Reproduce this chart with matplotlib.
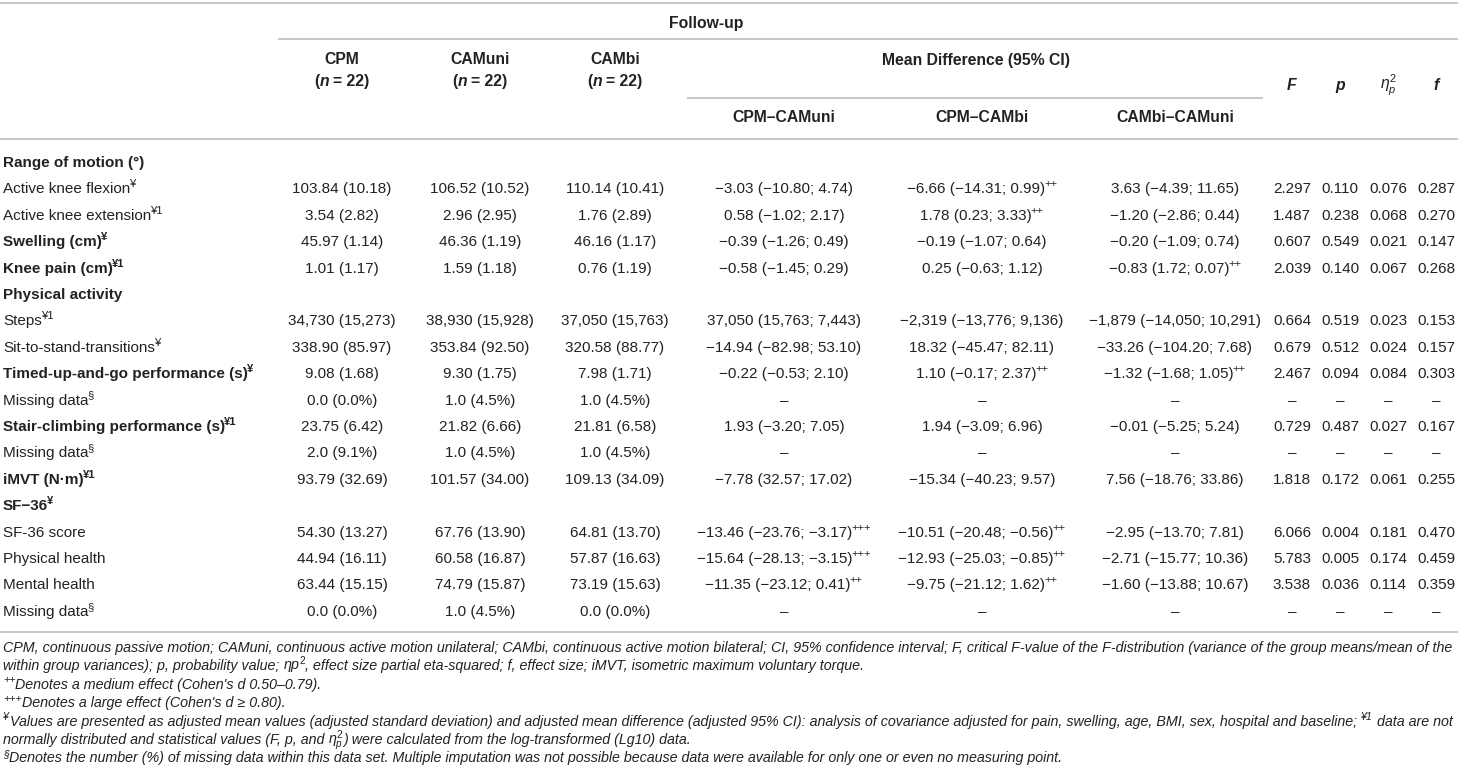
import matplotlib
matplotlib.use('Agg')
import matplotlib.pyplot as plt
from matplotlib import font_manager

# ---------------- fonts ----------------
names = {f.name for f in font_manager.fontManager.ttflist}
FONT = 'Liberation Sans' if 'Liberation Sans' in names else 'DejaVu Sans'
plt.rcParams['font.family'] = [FONT, 'DejaVu Sans']
plt.rcParams['mathtext.fontset'] = 'custom'
plt.rcParams['mathtext.rm'] = FONT
plt.rcParams['mathtext.it'] = FONT + ':italic'
plt.rcParams['mathtext.bf'] = FONT + ':bold'

# ---------------- data ----------------
row_labels = ['Range of motion (°)', 'Active knee flexion', 'Active knee extension',
              'Swelling (cm)', 'Knee pain (cm)', 'Physical activity', 'Steps',
              'Sit-to-stand-transitions', 'Timed-up-and-go performance (s)', 'Missing data',
              'Stair-climbing performance (s)', 'Missing data', 'iMVT (N·m)', 'SF−36',
              'SF-36 score', 'Physical health', 'Mental health', 'Missing data']
label_sup = ['', '¥', '¥1', '¥', '¥1', '', '¥1', '¥', '¥', '§', '¥1', '§', '¥1', '¥',
             '', '', '', '§']
bold_rows = [0, 3, 4, 5, 8, 10, 12, 13]

cpm = [None, '103.84 (10.18)', '3.54 (2.82)', '45.97 (1.14)', '1.01 (1.17)', None,
       '34,730 (15,273)', '338.90 (85.97)', '9.08 (1.68)', '0.0 (0.0%)', '23.75 (6.42)',
       '2.0 (9.1%)', '93.79 (32.69)', None, '54.30 (13.27)', '44.94 (16.11)',
       '63.44 (15.15)', '0.0 (0.0%)']
camuni = [None, '106.52 (10.52)', '2.96 (2.95)', '46.36 (1.19)', '1.59 (1.18)', None,
          '38,930 (15,928)', '353.84 (92.50)', '9.30 (1.75)', '1.0 (4.5%)', '21.82 (6.66)',
          '1.0 (4.5%)', '101.57 (34.00)', None, '67.76 (13.90)', '60.58 (16.87)',
          '74.79 (15.87)', '1.0 (4.5%)']
cambi = [None, '110.14 (10.41)', '1.76 (2.89)', '46.16 (1.17)', '0.76 (1.19)', None,
         '37,050 (15,763)', '320.58 (88.77)', '7.98 (1.71)', '1.0 (4.5%)', '21.81 (6.58)',
         '1.0 (4.5%)', '109.13 (34.09)', None, '64.81 (13.70)', '57.87 (16.63)',
         '73.19 (15.63)', '0.0 (0.0%)']

md_cpm_camuni = [None, '−3.03 (−10.80; 4.74)', '0.58 (−1.02; 2.17)', '−0.39 (−1.26; 0.49)',
                 '−0.58 (−1.45; 0.29)', None, '37,050 (15,763; 7,443)',
                 '−14.94 (−82.98; 53.10)', '−0.22 (−0.53; 2.10)', '–', '1.93 (−3.20; 7.05)',
                 '–', '−7.78 (32.57; 17.02)', None, '−13.46 (−23.76; −3.17)',
                 '−15.64 (−28.13; −3.15)', '−11.35 (−23.12; 0.41)', '–']
eff_cpm_camuni = ['', '', '', '', '', '', '', '', '', '', '', '', '', '',
                  '+++', '+++', '++', '']
md_cpm_cambi = [None, '−6.66 (−14.31; 0.99)', '1.78 (0.23; 3.33)', '−0.19 (−1.07; 0.64)',
                '0.25 (−0.63; 1.12)', None, '−2,319 (−13,776; 9,136)',
                '18.32 (−45.47; 82.11)', '1.10 (−0.17; 2.37)', '–', '1.94 (−3.09; 6.96)',
                '–', '−15.34 (−40.23; 9.57)', None, '−10.51 (−20.48; −0.56)',
                '−12.93 (−25.03; −0.85)', '−9.75 (−21.12; 1.62)', '–']
eff_cpm_cambi = ['', '++', '++', '', '', '', '', '', '++', '', '', '', '', '',
                 '++', '++', '++', '']
md_cambi_camuni = [None, '3.63 (−4.39; 11.65)', '−1.20 (−2.86; 0.44)', '−0.20 (−1.09; 0.74)',
                   '−0.83 (1.72; 0.07)', None, '−1,879 (−14,050; 10,291)',
                   '−33.26 (−104.20; 7.68)', '−1.32 (−1.68; 1.05)', '–',
                   '−0.01 (−5.25; 5.24)', '–', '7.56 (−18.76; 33.86)', None,
                   '−2.95 (−13.70; 7.81)', '−2.71 (−15.77; 10.36)', '−1.60 (−13.88; 10.67)', '–']
eff_cambi_camuni = ['', '', '', '', '++', '', '', '', '++', '', '', '', '', '',
                    '', '', '', '']

F_vals = [None, 2.297, 1.487, 0.607, 2.039, None, 0.664, 0.679, 2.467, None, 0.729, None,
          1.818, None, 6.066, 5.783, 3.538, None]
p_vals = [None, 0.110, 0.238, 0.549, 0.140, None, 0.519, 0.512, 0.094, None, 0.487, None,
          0.172, None, 0.004, 0.005, 0.036, None]
eta_vals = [None, 0.076, 0.068, 0.021, 0.067, None, 0.023, 0.024, 0.084, None, 0.027, None,
            0.061, None, 0.181, 0.174, 0.114, None]
f_vals = [None, 0.287, 0.270, 0.147, 0.268, None, 0.153, 0.157, 0.303, None, 0.167, None,
          0.255, None, 0.470, 0.459, 0.359, None]

group_heads = ['CPM', 'CAMuni', 'CAMbi']
md_heads = ['CPM–CAMuni', 'CPM–CAMbi', 'CAMbi–CAMuni']

# ---------------- layout ----------------
W, H = 1458, 780
FS = 11.0
FS_HEAD = 11.3
FS_NOTE = 10.3
SUP = 0.74
TXT = '#222222'
LINE = '#c4c4c4'
LABEL_X = 3
group_x = [342, 480, 615]
md_x = [784, 982, 1175]
stat_x = [1292, 1340, 1388, 1436]
ROW_Y0, ROW_DY = 162, 26.4

fig = plt.figure(figsize=(W / 100, H / 100), dpi=100)
ax = fig.add_axes([0, 0, 1, 1])
ax.set_xlim(0, W)
ax.set_ylim(H, 0)
ax.axis('off')
renderer = fig.canvas.get_renderer()


def put_runs(x, y, parts, ha='center', size=FS, color=TXT):
    """draw a row of text pieces (normal / superscript) on one baseline"""
    objs, widths = [], []
    for txt, st in parts:
        sup = st.get('sup', False)
        t = ax.text(0, y - (size * 0.55 if sup else 0), txt,
                    fontsize=size * SUP if sup else size,
                    fontweight=st.get('weight', 'normal'),
                    fontstyle=st.get('style', 'normal'),
                    va='baseline', ha='left', color=color)
        objs.append(t)
        widths.append(t.get_window_extent(renderer).width + st.get('gap', 0))
    total = sum(widths)
    pos = x - total / 2 if ha == 'center' else x
    for (txt, st), t, w in zip(parts, objs, widths):
        t.set_x(pos + st.get('gap', 0))
        pos += w


def hline(y, x0=0, x1=W):
    ax.plot([x0, x1], [y, y], color=LINE, lw=1.3, solid_capstyle='butt')


# ---------------- rules ----------------
hline(3)
hline(39, 278, W)
hline(98, 687, 1263)
hline(139)
hline(632)

# ---------------- header ----------------
B = dict(weight='bold')
put_runs(706, 28, [('Follow-up', B)], size=FS_HEAD)
for x, name in zip(group_x, group_heads):
    put_runs(x, 64, [(name, B)], size=FS_HEAD)
    put_runs(x, 86, [('(', B), ('n', dict(weight='bold', style='italic')),
                     ('= 22)', dict(weight='bold', gap=4))], size=FS_HEAD)
put_runs(976, 65, [('Mean Difference (95% CI)', B)], size=FS_HEAD)
for x, name in zip(md_x, md_heads):
    put_runs(x, 122, [(name, B)], size=FS_HEAD)
for x, name in zip([1292, 1340, 1436], ['F', 'p', 'f']):
    put_runs(x, 90, [(name, dict(weight='bold', style='italic'))], size=FS_HEAD)
ax.text(1388, 90, r'$\eta_p^2$', fontsize=FS_HEAD, ha='center', va='baseline', color=TXT)

# ---------------- body ----------------
for i, lab in enumerate(row_labels):
    y = ROW_Y0 + i * ROW_DY + 5
    w = 'bold' if i in bold_rows else 'normal'
    parts = [(lab, dict(weight=w))]
    if label_sup[i]:
        parts.append((label_sup[i], dict(sup=True, weight=w, gap=-1)))
    put_runs(LABEL_X, y, parts, ha='left')
    if cpm[i] is None:
        continue
    for x, col in zip(group_x, (cpm, camuni, cambi)):
        put_runs(x, y, [(col[i], {})])
    for x, col, eff in zip(md_x, (md_cpm_camuni, md_cpm_cambi, md_cambi_camuni),
                           (eff_cpm_camuni, eff_cpm_cambi, eff_cambi_camuni)):
        parts = [(col[i], {})]
        if eff[i]:
            parts.append((eff[i], dict(sup=True, gap=-1)))
        put_runs(x, y, parts)
    for x, col in zip(stat_x, (F_vals, p_vals, eta_vals, f_vals)):
        s = '–' if col[i] is None else f'{col[i]:.3f}'
        put_runs(x, y, [(s, {})])

# ---------------- footnotes ----------------
I = dict(style='italic')
IS = dict(style='italic', sup=True)
notes = [
    [('CPM, continuous passive motion; CAMuni, continuous active motion unilateral; CAMbi, '
      'continuous active motion bilateral; CI, 95% confidence interval; F, critical F-value '
      'of the F-distribution (variance of the group means/mean of the', I)],
    [('within group variances); p, probability value;', I), (r'$\eta p^2$', dict(gap=4)),
     (', effect size partial eta-squared; f, effect size; iMVT, isometric maximum voluntary '
      'torque.', dict(style='italic', gap=-2))],
    [('++', IS), ("Denotes a medium effect (Cohen's d 0.50–0.79).", I)],
    [('+++', IS), ("Denotes a large effect (Cohen's d ≥ 0.80).", I)],
    [('¥', IS), ('Values are presented as adjusted mean values (adjusted standard deviation) '
                 'and adjusted mean difference (adjusted 95% CI): analysis of covariance '
                 'adjusted for pain, swelling, age, BMI, sex, hospital and baseline;',
                 dict(style='italic', gap=1)),
     ('¥1', dict(style='italic', sup=True, gap=4)), ('data are not', dict(style='italic', gap=4))],
    [('normally distributed and statistical values (F, p, and', I),
     (r'$\eta_p^2$', dict(gap=4)),
     (') were calculated from the log-transformed (Lg10) data.', dict(style='italic', gap=-1))],
    [('§', IS), ('Denotes the number (%) of missing data within this data set. Multiple '
                 'imputation was not possible because data were available for only one or '
                 'even no measuring point.', I)],
]
for k, parts in enumerate(notes):
    put_runs(LABEL_X, 652 + k * 18.4, parts, ha='left', size=FS_NOTE)

fig.savefig('out.png', dpi=100)
